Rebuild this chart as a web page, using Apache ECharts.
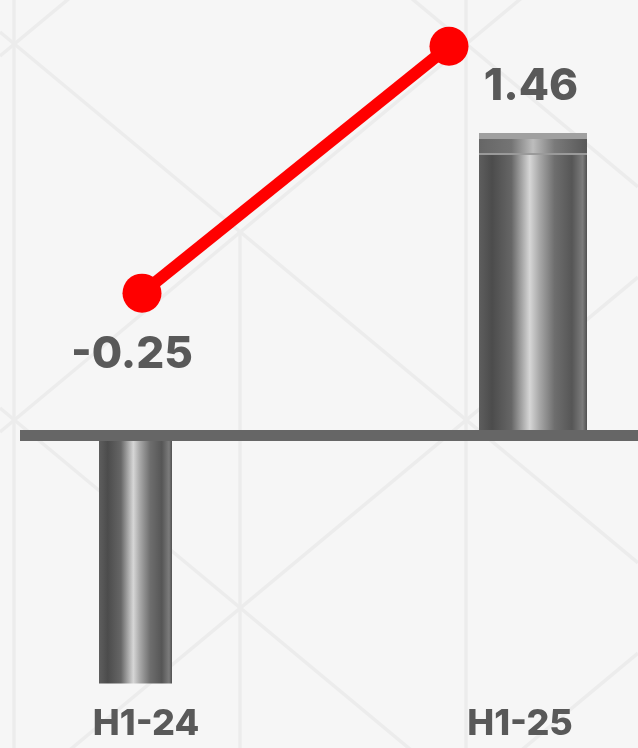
<!DOCTYPE html>
<html>
<head>
<meta charset="utf-8">
<style>
html, body { margin: 0; padding: 0; background: #f6f6f6; }
#main { width: 638px; height: 748px; }
</style>
<script src="https://cdn.jsdelivr.net/npm/echarts@6/dist/echarts.min.js"></script>
</head>
<body>
<div id="main"></div>
<script>
// data
var categories = ['H1-24', 'H1-25'];
var values = [-0.25, 1.46];       // red line, labelled
var barLevels = [-0.82, 1.0];     // grey columns, relative height (no labels)

// styles
var barWidths = [73, 108];
var textColor = '#595959';
var fontFamily = 'Inter, "Liberation Sans", Arial, sans-serif';

var chart = echarts.init(document.getElementById('main'));

function metal() {
    return new echarts.graphic.LinearGradient(0, 0, 1, 0, [
        { offset: 0, color: '#5e5e5e' },
        { offset: 0.12, color: '#4c4c4c' },
        { offset: 0.3, color: '#666666' },
        { offset: 0.47, color: '#d6d6d6' },
        { offset: 0.56, color: '#a8a8a8' },
        { offset: 0.7, color: '#6e6e6e' },
        { offset: 0.86, color: '#565656' },
        { offset: 0.96, color: '#7c7c7c' },
        { offset: 1, color: '#505050' }
    ]);
}

function capMetal() {
    return new echarts.graphic.LinearGradient(0, 0, 1, 0, [
        { offset: 0, color: '#666666' },
        { offset: 0.3, color: '#747474' },
        { offset: 0.5, color: '#bdbdbd' },
        { offset: 0.7, color: '#7a7a7a' },
        { offset: 1, color: '#585858' }
    ]);
}

function renderBar(params, api) {
    var idx = params.dataIndex;
    var top = api.coord([api.value(0), api.value(1)]);
    var base = api.coord([api.value(0), 0]);
    var w = barWidths[idx];
    var x = top[0] - w / 2;
    var y = Math.min(top[1], base[1]);
    var h = Math.abs(base[1] - top[1]);
    var children = [{
        type: 'rect',
        shape: { x: x, y: y, width: w, height: h },
        style: { fill: metal() }
    }];
    if (api.value(1) > 0) {
        // cylinder cap + value label
        children.push({
            type: 'rect',
            shape: { x: x, y: y, width: w, height: 22 },
            style: { fill: capMetal() }
        });
        children.push({
            type: 'rect',
            shape: { x: x, y: y, width: w, height: 6 },
            style: { fill: '#a0a0a0' }
        });
        children.push({
            type: 'rect',
            shape: { x: x, y: y + 20, width: w, height: 2 },
            style: { fill: '#9a9a9a' }
        });
        children.push({
            type: 'text',
            x: top[0] - 2,
            y: y - 24,
            style: {
                text: api.value(2).toFixed(2),
                font: '800 44px ' + fontFamily,
                fill: textColor,
                align: 'center',
                verticalAlign: 'bottom'
            }
        });
    }
    return { type: 'group', children: children };
}

var option = {
    backgroundColor: '#f6f6f6',
    animation: false,
    grid: [
        { left: 135.5, right: 105, top: 0, bottom: 0 },   // columns
        { left: 142, right: 189, top: 0, bottom: 0 },     // red line
        { left: 146, right: 118, top: 0, bottom: 58 }     // category labels
    ],
    xAxis: [
        { gridIndex: 0, type: 'category', data: categories, boundaryGap: false, show: false },
        { gridIndex: 1, type: 'category', data: categories, boundaryGap: false, show: false },
        {
            gridIndex: 2, type: 'category', data: categories, boundaryGap: false,
            axisLine: { show: false }, axisTick: { show: false },
            axisLabel: {
                margin: 16,
                color: textColor,
                fontSize: 36,
                fontWeight: 800,
                fontFamily: fontFamily
            }
        }
    ],
    yAxis: [
        { gridIndex: 0, type: 'value', min: -1.033, max: 1.44, show: false },
        { gridIndex: 1, type: 'value', min: -3.40, max: 1.78, show: false },
        { gridIndex: 2, type: 'value', show: false }
    ],
    series: [
        {
            type: 'custom',
            xAxisIndex: 0,
            yAxisIndex: 0,
            z: 2,
            renderItem: renderBar,
            data: categories.map(function (c, i) { return [i, barLevels[i], values[i]]; })
        },
        {
            type: 'line',
            xAxisIndex: 1,
            yAxisIndex: 1,
            z: 10,
            symbol: 'circle',
            symbolSize: 39,
            lineStyle: { color: '#ff0000', width: 12 },
            itemStyle: { color: '#ff0000' },
            label: {
                position: 'bottom',
                distance: 20,
                offset: [-10, 0],
                color: textColor,
                fontSize: 44,
                fontWeight: 800,
                fontFamily: fontFamily,
                formatter: function (p) { return p.value.toFixed(2); }
            },
            data: values.map(function (v) {
                return { value: v, label: { show: v < 0 } };
            })
        }
    ]
};

chart.setOption(option);

// background lattice + zero line
var deco = [];
var bgStyle = { stroke: '#ececec', lineWidth: 3.5 };
deco.push({ type: 'line', z: -10, shape: { x1: 14, y1: 0, x2: 14, y2: 748 }, style: bgStyle });
deco.push({ type: 'line', z: -10, shape: { x1: 240, y1: 232, x2: 240, y2: 748 }, style: bgStyle });
deco.push({ type: 'line', z: -10, shape: { x1: 466, y1: 0, x2: 466, y2: 748 }, style: bgStyle });
var slope = 0.832;
for (var k = -3; k <= 3; k++) {
    var c = 32 + 376 * k;
    deco.push({ type: 'line', z: -10, shape: { x1: 0, y1: c, x2: 638, y2: c + slope * 638 }, style: bgStyle });
    var d = 56 + 376 * k;
    deco.push({ type: 'line', z: -10, shape: { x1: 0, y1: d, x2: 638, y2: d - slope * 638 }, style: bgStyle });
}
var zeroY = chart.convertToPixel({ yAxisIndex: 0 }, 0);
deco.push({
    type: 'rect', z: 50,
    shape: { x: 20, y: zeroY - 5.5, width: 618, height: 11 },
    style: { fill: '#666666' }
});
chart.setOption({ graphic: deco });
</script>
</body>
</html>
